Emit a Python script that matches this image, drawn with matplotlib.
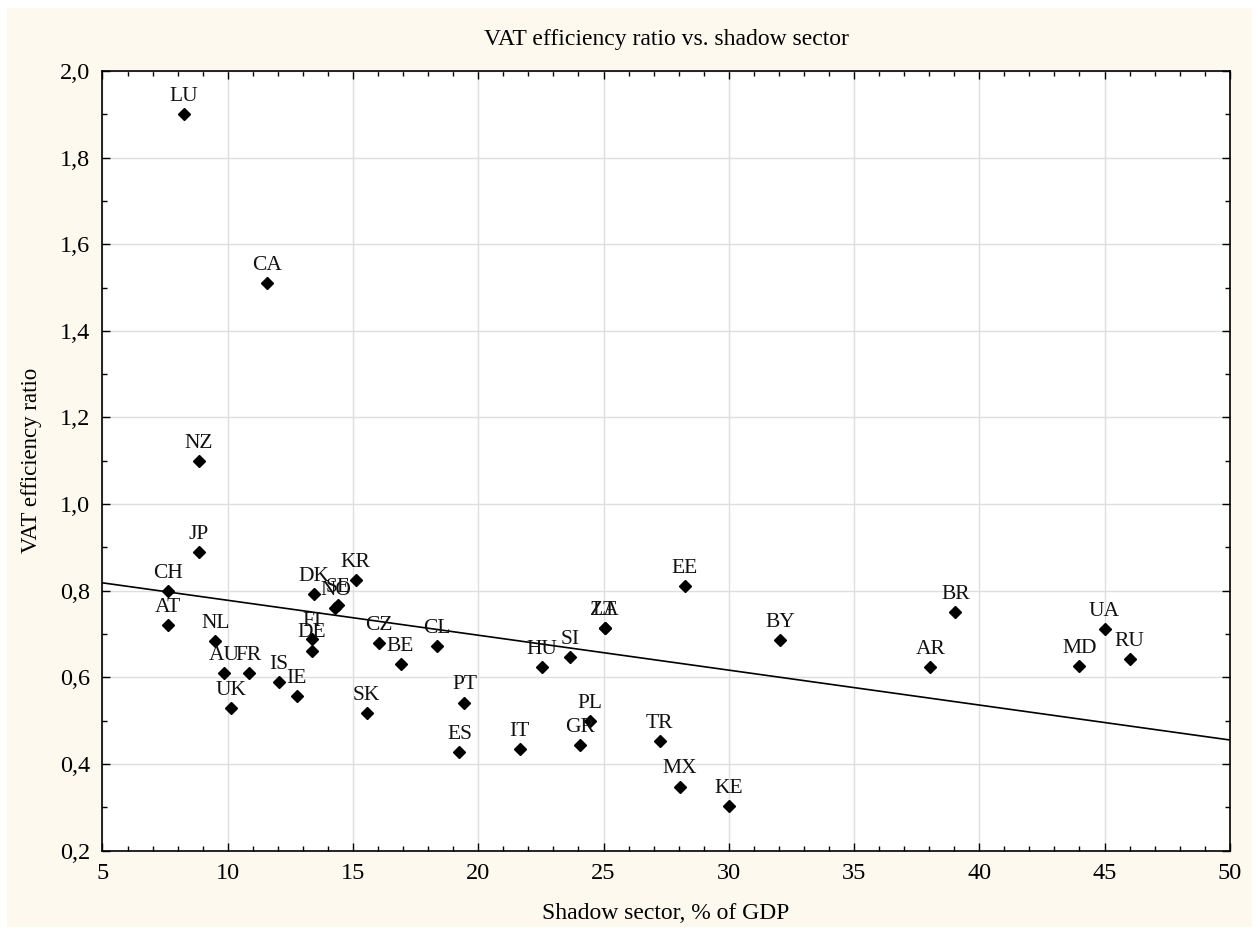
import matplotlib

matplotlib.use("Agg")
import matplotlib.pyplot as plt
import numpy as np
from matplotlib.patches import Rectangle
from matplotlib.ticker import FuncFormatter, MultipleLocator

# country code, shadow sector (% of GDP), VAT efficiency ratio
codes = ["LU", "CA", "NZ", "JP", "CH", "AT", "NL", "AU", "FR", "UK",
         "IS", "IE", "DK", "SE", "NO", "KR", "FI", "DE", "CZ", "BE",
         "SK", "CL", "PT", "ES", "IT", "GR", "PL", "HU", "SI", "ZA",
         "LT", "EE", "TR", "MX", "KE", "BY", "AR", "BR", "MD", "UA", "RU"]
shadow = [8.25, 11.55, 8.85, 8.85, 7.6, 7.6, 9.5, 9.85, 10.85, 10.15,
          12.05, 12.75, 13.45, 14.4, 14.3, 15.1, 13.35, 13.35, 16.05, 16.9,
          15.55, 18.35, 19.45, 19.25, 21.65, 24.05, 24.45, 22.55, 23.65, 25.05,
          25.05, 28.25, 27.25, 28.05, 30.0, 32.05, 38.05, 39.05, 44.0, 45.0, 46.0]
vat_ratio = [1.90, 1.51, 1.10, 0.89, 0.80, 0.72, 0.685, 0.61, 0.61, 0.53,
             0.59, 0.557, 0.792, 0.768, 0.76, 0.825, 0.689, 0.662, 0.679, 0.631,
             0.517, 0.672, 0.542, 0.428, 0.435, 0.444, 0.499, 0.624, 0.648, 0.713,
             0.713, 0.81, 0.453, 0.348, 0.302, 0.687, 0.624, 0.752, 0.627, 0.712, 0.642]

SERIF = ["Liberation Serif", "DejaVu Serif"]
plt.rcParams["font.family"] = SERIF

fig = plt.figure(figsize=(12.59, 9.35), dpi=100)
fig.patch.set_facecolor("white")
fig.add_artist(Rectangle((7 / 1259, 8 / 935), 1245 / 1259, 919 / 935,
                         transform=fig.transFigure, facecolor="#fdf9ef",
                         edgecolor="none", zorder=-10))

ax = fig.add_axes([0.0814, 0.0902, 0.8954, 0.8339])
ax.set_facecolor("white")

x = np.array(shadow)
y = np.array(vat_ratio)

ax.plot(x, y, linestyle="none", marker="D", markersize=6.2,
        color="black", zorder=3)

for code, xi, yi in zip(codes, x, y):
    ax.annotate(code, (xi, yi), xytext=(0, 9.4), textcoords="offset points",
                ha="center", va="baseline", fontsize=15.5, color="#111",
                zorder=4)

ax.set_xlim(5, 50)
ax.set_ylim(0.2, 2.0)

# least-squares trend line
slope, intercept = np.polyfit(x, y, 1)
xl = np.array(ax.get_xlim())
ax.plot(xl, intercept + slope * xl, color="black", lw=1.2, zorder=2)

ax.xaxis.set_major_locator(MultipleLocator(5))
ax.xaxis.set_minor_locator(MultipleLocator(1))
ax.yaxis.set_major_locator(MultipleLocator(0.2))
ax.yaxis.set_minor_locator(MultipleLocator(0.1))
ax.yaxis.set_major_formatter(FuncFormatter(lambda v, _: f"{v:.1f}".replace(".", ",")))

ax.grid(True, which="major", color="#dedede", lw=1.0, zorder=0)
ax.set_axisbelow(True)
ax.tick_params(which="both", direction="in", top=True, right=True,
               labelsize=17.5, color="black", width=1.0)
ax.tick_params(which="major", length=6, pad=9)
ax.tick_params(which="minor", length=3.5)
for sp in ax.spines.values():
    sp.set_linewidth(1.2)
    sp.set_color("black")

ax.set_xlabel("Shadow sector, % of GDP", fontsize=17)
ax.xaxis.set_label_coords(0.5, -0.081)
ax.xaxis.label.set_va("center")
ax.set_ylabel("VAT efficiency ratio", fontsize=16.5)
ax.yaxis.set_label_coords(-0.063, 0.5)
ax.yaxis.label.set_va("center")

fig.text(0.0814 + 0.8954 / 2, 1 - 40 / 935, "VAT efficiency ratio vs. shadow sector",
         ha="center", va="center", fontsize=17)

fig.savefig("out.png", dpi=100, facecolor="white")
plt.close(fig)
